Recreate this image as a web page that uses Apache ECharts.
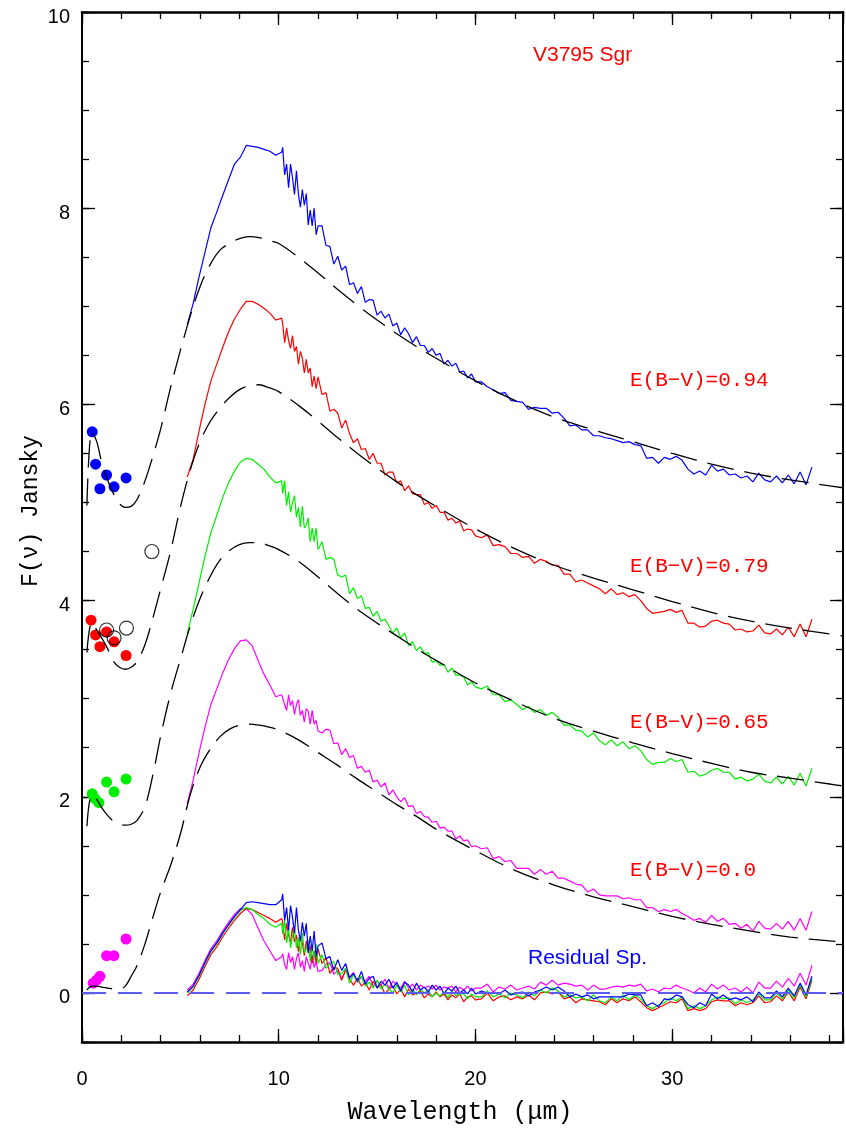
<!DOCTYPE html>
<html><head><meta charset="utf-8">
<script src="https://cdn.jsdelivr.net/npm/echarts@6/dist/echarts.min.js"></script>
<style>html,body{margin:0;padding:0;background:#fff}#c{width:846px;height:1129px}</style>
</head><body><div id="c"></div>
<script>
// ---------- wavelength grid of the spectra (micron) ----------
const WL = [5.35, 5.65, 5.95, 6.25, 6.55, 6.85, 7.15, 7.45, 7.75, 8.05, 8.35, 8.65, 8.95, 9.25, 9.55, 9.85, 10.15,
  10.2, 10.3, 10.4, 10.5, 10.6, 10.7, 10.8, 10.9, 11.0, 11.1, 11.2, 11.3, 11.4, 11.5, 11.6, 11.7, 11.8, 11.9, 12.0,
  12.2, 12.4, 12.6, 12.8, 13.0, 13.2, 13.4, 13.6, 13.8, 14.0, 14.2, 14.4, 14.6, 14.8, 15.0, 15.2, 15.4, 15.6, 15.8, 16.0,
  16.2, 16.4, 16.6, 16.8, 17.0, 17.2, 17.4, 17.6, 17.8, 18.0, 18.2, 18.4, 18.6, 18.8, 19.0, 19.2, 19.4, 19.6, 19.8, 20.0,
  20.3, 20.6, 20.9, 21.2, 21.5, 21.8, 22.1, 22.4, 22.7, 23.0, 23.3, 23.6, 23.9, 24.2, 24.5, 24.8, 25.1, 25.4, 25.7, 26.0,
  26.3, 26.6, 26.9, 27.2, 27.5, 27.8, 28.1, 28.4, 28.7, 29.0, 29.3, 29.6, 29.9, 30.2, 30.5, 30.8, 31.1, 31.4, 31.7, 32.0,
  32.3, 32.6, 32.9, 33.2, 33.5, 33.8, 34.1, 34.4, 34.7, 35.0, 35.3, 35.6, 35.9, 36.2, 36.5, 36.8, 37.1];

// ---------- observed spectra (Jy, offset) ----------
const SPEC_B = [6.81, 7.03, 7.30, 7.55, 7.80, 7.96, 8.13, 8.29, 8.45, 8.52, 8.64, 8.63, 8.62, 8.60, 8.58, 8.54, 8.57,
  8.62, 8.34, 8.45, 8.21, 8.45, 8.31, 8.14, 8.38, 8.14, 8.01, 8.19, 8.03, 8.15, 7.83, 7.98, 7.82, 8.00, 7.73, 7.82,
  7.82, 7.62, 7.61, 7.43, 7.51, 7.37, 7.41, 7.22, 7.24, 7.13, 7.20, 7.04, 7.07, 7.06, 6.91, 6.95, 6.88, 6.92, 6.80, 6.83,
  6.71, 6.78, 6.72, 6.63, 6.69, 6.60, 6.60, 6.53, 6.57, 6.50, 6.52, 6.41, 6.45, 6.39, 6.42, 6.33, 6.34, 6.27, 6.31, 6.23,
  6.23, 6.18, 6.15, 6.11, 6.12, 6.04, 6.03, 6.02, 5.95, 5.97, 5.96, 5.96, 5.91, 5.92, 5.86, 5.78, 5.79, 5.74, 5.74, 5.68,
  5.68, 5.66, 5.65, 5.63, 5.61, 5.62, 5.59, 5.58, 5.45, 5.46, 5.40, 5.46, 5.44, 5.47, 5.43, 5.34, 5.29, 5.32, 5.28, 5.38,
  5.32, 5.34, 5.28, 5.29, 5.25, 5.27, 5.21, 5.30, 5.23, 5.21, 5.27, 5.20, 5.28, 5.19, 5.31, 5.18, 5.36];
const SPEC_R = [5.26, 5.44, 5.73, 6.00, 6.24, 6.41, 6.58, 6.74, 6.87, 6.97, 7.05, 7.05, 7.02, 6.98, 6.93, 6.86, 6.88,
  6.82, 6.63, 6.78, 6.65, 6.57, 6.70, 6.54, 6.59, 6.41, 6.54, 6.47, 6.32, 6.46, 6.32, 6.37, 6.18, 6.29, 6.16, 6.28,
  6.10, 6.12, 5.93, 5.95, 5.91, 5.76, 5.84, 5.70, 5.61, 5.65, 5.54, 5.55, 5.44, 5.50, 5.40, 5.40, 5.28, 5.31, 5.31, 5.20,
  5.22, 5.12, 5.17, 5.09, 5.08, 5.08, 4.98, 5.00, 4.94, 4.97, 4.90, 4.90, 4.82, 4.84, 4.79, 4.81, 4.71, 4.73, 4.72, 4.66,
  4.64, 4.67, 4.56, 4.57, 4.55, 4.48, 4.48, 4.44, 4.45, 4.38, 4.42, 4.40, 4.36, 4.36, 4.27, 4.27, 4.19, 4.21, 4.18, 4.15,
  4.12, 4.07, 4.12, 4.06, 4.08, 4.04, 4.06, 4.00, 3.92, 3.87, 3.88, 3.89, 3.91, 3.88, 3.90, 3.77, 3.77, 3.73, 3.74, 3.79,
  3.80, 3.77, 3.76, 3.70, 3.71, 3.68, 3.69, 3.75, 3.67, 3.66, 3.71, 3.65, 3.73, 3.63, 3.76, 3.63, 3.81];
const SPEC_G = [3.66, 3.91, 4.18, 4.45, 4.69, 4.87, 5.05, 5.20, 5.32, 5.41, 5.45, 5.44, 5.39, 5.34, 5.26, 5.20, 5.22,
  5.09, 5.22, 4.97, 5.11, 4.90, 5.00, 5.07, 4.85, 4.95, 4.75, 4.96, 4.74, 4.77, 4.84, 4.60, 4.74, 4.60, 4.74, 4.52,
  4.60, 4.42, 4.44, 4.42, 4.26, 4.24, 4.26, 4.07, 4.13, 4.02, 4.05, 3.92, 3.93, 3.84, 3.89, 3.79, 3.81, 3.74, 3.67, 3.72,
  3.62, 3.67, 3.54, 3.58, 3.49, 3.53, 3.46, 3.47, 3.37, 3.39, 3.34, 3.35, 3.27, 3.31, 3.24, 3.24, 3.22, 3.14, 3.17, 3.12,
  3.10, 3.13, 3.04, 3.04, 2.97, 2.99, 2.94, 2.89, 2.92, 2.86, 2.89, 2.83, 2.86, 2.81, 2.73, 2.73, 2.68, 2.67, 2.61, 2.65,
  2.57, 2.53, 2.58, 2.52, 2.56, 2.49, 2.52, 2.47, 2.38, 2.33, 2.35, 2.35, 2.39, 2.36, 2.38, 2.25, 2.26, 2.21, 2.23, 2.27,
  2.29, 2.25, 2.25, 2.18, 2.20, 2.16, 2.18, 2.23, 2.16, 2.14, 2.20, 2.13, 2.21, 2.12, 2.24, 2.11, 2.29];
const SPEC_M = [1.93, 2.17, 2.45, 2.71, 2.94, 3.10, 3.26, 3.40, 3.51, 3.59, 3.60, 3.54, 3.39, 3.25, 3.14, 3.02, 3.04,
  3.06, 2.94, 2.88, 3.04, 2.93, 2.98, 2.84, 2.94, 2.99, 2.83, 2.88, 2.76, 2.90, 2.87, 2.74, 2.88, 2.74, 2.78, 2.67,
  2.65, 2.69, 2.68, 2.54, 2.55, 2.43, 2.49, 2.40, 2.42, 2.29, 2.31, 2.25, 2.27, 2.15, 2.17, 2.10, 2.14, 2.02, 2.07, 2.00,
  1.95, 1.99, 1.90, 1.91, 1.83, 1.85, 1.80, 1.79, 1.74, 1.75, 1.68, 1.69, 1.65, 1.65, 1.57, 1.60, 1.55, 1.56, 1.49, 1.50,
  1.47, 1.48, 1.37, 1.39, 1.34, 1.35, 1.27, 1.27, 1.27, 1.21, 1.26, 1.21, 1.24, 1.17, 1.17, 1.14, 1.11, 1.10, 1.03, 1.06,
  1.00, 0.99, 0.99, 0.99, 0.96, 0.97, 0.95, 0.95, 0.87, 0.87, 0.83, 0.85, 0.83, 0.85, 0.81, 0.78, 0.74, 0.76, 0.72, 0.79,
  0.73, 0.76, 0.70, 0.71, 0.66, 0.70, 0.63, 0.73, 0.66, 0.65, 0.71, 0.65, 0.73, 0.64, 0.76, 0.64, 0.83];

// ---------- residual spectra ----------
const RES_B = [0.01, 0.07, 0.18, 0.31, 0.43, 0.51, 0.61, 0.70, 0.78, 0.85, 0.92, 0.93, 0.92, 0.91, 0.90, 0.90, 0.95,
  1.01, 0.74, 0.87, 0.64, 0.89, 0.77, 0.61, 0.87, 0.64, 0.53, 0.72, 0.58, 0.71, 0.41, 0.58, 0.43, 0.63, 0.37, 0.48,
  0.51, 0.35, 0.37, 0.23, 0.34, 0.23, 0.30, 0.15, 0.20, 0.12, 0.22, 0.09, 0.15, 0.17, 0.05, 0.12, 0.08, 0.14, 0.05, 0.11,
  0.02, 0.11, 0.08, 0.01, 0.10, 0.03, 0.06, 0.01, 0.08, 0.03, 0.07, -0.01, 0.05, 0.02, 0.07, 0.00, 0.03, -0.01, 0.05, -0.01,
  0.02, 0.00, 0.00, -0.01, 0.03, -0.02, 0.00, 0.01, -0.03, 0.01, 0.03, 0.06, 0.03, 0.06, 0.02, -0.04, -0.01, -0.04, -0.02, -0.06,
  -0.04, -0.04, -0.04, -0.04, -0.04, -0.01, -0.02, -0.02, -0.13, -0.10, -0.14, -0.06, -0.07, -0.02, -0.04, -0.12, -0.15, -0.10, -0.13, -0.01,
  -0.06, -0.02, -0.07, -0.05, -0.07, -0.04, -0.09, 0.01, -0.05, -0.05, 0.02, -0.04, 0.05, -0.03, 0.10, -0.02, 0.17];
const RES_R = [-0.03, 0.03, 0.14, 0.27, 0.39, 0.47, 0.57, 0.66, 0.74, 0.81, 0.86, 0.85, 0.82, 0.79, 0.76, 0.72, 0.76,
  0.72, 0.54, 0.71, 0.59, 0.52, 0.67, 0.52, 0.59, 0.42, 0.57, 0.51, 0.38, 0.53, 0.41, 0.48, 0.30, 0.43, 0.31, 0.45,
  0.30, 0.36, 0.20, 0.26, 0.25, 0.13, 0.24, 0.14, 0.08, 0.15, 0.07, 0.11, 0.03, 0.12, 0.05, 0.08, -0.01, 0.04, 0.07, -0.01,
  0.04, -0.04, 0.04, -0.02, 0.00, 0.02, -0.05, -0.01, -0.04, 0.01, -0.04, -0.01, -0.07, -0.02, -0.05, -0.01, -0.09, -0.04, -0.03, -0.07,
  -0.06, 0.00, -0.08, -0.04, -0.03, -0.07, -0.04, -0.06, -0.02, -0.07, 0.00, 0.01, -0.01, 0.01, -0.06, -0.04, -0.10, -0.06, -0.07, -0.08,
  -0.09, -0.12, -0.06, -0.10, -0.06, -0.08, -0.04, -0.09, -0.15, -0.18, -0.15, -0.12, -0.09, -0.10, -0.06, -0.18, -0.16, -0.18, -0.16, -0.09,
  -0.07, -0.08, -0.08, -0.13, -0.10, -0.12, -0.10, -0.03, -0.10, -0.09, -0.03, -0.08, 0.01, -0.08, 0.06, -0.06, 0.13];
const RES_G = [0.00, 0.06, 0.17, 0.30, 0.42, 0.50, 0.60, 0.69, 0.77, 0.84, 0.87, 0.85, 0.80, 0.76, 0.70, 0.67, 0.71,
  0.60, 0.74, 0.51, 0.66, 0.46, 0.58, 0.66, 0.46, 0.57, 0.39, 0.61, 0.41, 0.45, 0.54, 0.32, 0.47, 0.35, 0.50, 0.30,
  0.39, 0.25, 0.30, 0.32, 0.19, 0.20, 0.25, 0.10, 0.19, 0.11, 0.17, 0.07, 0.11, 0.05, 0.13, 0.04, 0.09, 0.04, 0.00, 0.08,
  0.01, 0.08, -0.02, 0.04, -0.02, 0.04, 0.00, 0.03, -0.04, 0.00, -0.03, 0.01, -0.05, 0.02, -0.03, -0.01, -0.01, -0.06, -0.01, -0.04,
  -0.04, 0.02, -0.04, -0.01, -0.05, 0.00, -0.02, -0.05, 0.01, -0.03, 0.03, 0.00, 0.05, 0.02, -0.04, -0.02, -0.05, -0.04, -0.08, -0.02,
  -0.08, -0.10, -0.04, -0.08, -0.02, -0.07, -0.02, -0.06, -0.13, -0.16, -0.12, -0.10, -0.05, -0.08, -0.04, -0.16, -0.13, -0.16, -0.13, -0.07,
  -0.04, -0.06, -0.05, -0.11, -0.07, -0.10, -0.07, -0.01, -0.07, -0.07, 0.00, -0.06, 0.03, -0.05, 0.08, -0.04, 0.15];
const RES_M = [0.03, 0.09, 0.20, 0.33, 0.45, 0.53, 0.63, 0.72, 0.80, 0.86, 0.86, 0.80, 0.66, 0.53, 0.43, 0.33, 0.37,
  0.40, 0.29, 0.24, 0.41, 0.31, 0.37, 0.24, 0.35, 0.41, 0.26, 0.33, 0.22, 0.37, 0.35, 0.24, 0.39, 0.26, 0.32, 0.22,
  0.23, 0.29, 0.31, 0.19, 0.23, 0.14, 0.23, 0.16, 0.21, 0.11, 0.16, 0.12, 0.17, 0.07, 0.12, 0.08, 0.14, 0.05, 0.12, 0.08,
  0.05, 0.12, 0.05, 0.09, 0.03, 0.08, 0.05, 0.07, 0.04, 0.08, 0.03, 0.06, 0.05, 0.07, 0.01, 0.06, 0.03, 0.07, 0.02, 0.05,
  0.05, 0.09, 0.01, 0.06, 0.04, 0.08, 0.03, 0.05, 0.07, 0.04, 0.11, 0.08, 0.13, 0.08, 0.10, 0.09, 0.07, 0.08, 0.03, 0.08,
  0.04, 0.04, 0.06, 0.07, 0.06, 0.08, 0.07, 0.09, 0.02, 0.04, 0.01, 0.05, 0.04, 0.08, 0.05, 0.03, 0.00, 0.05, 0.01, 0.09,
  0.04, 0.08, 0.03, 0.05, 0.01, 0.06, 0.00, 0.11, 0.05, 0.05, 0.12, 0.06, 0.15, 0.07, 0.20, 0.08, 0.28];

// ---------- model curves (photosphere + dust) ----------
const MODEL_WL = [0.25, 0.5, 0.75, 1.0, 1.3, 1.6, 1.9, 2.2, 2.5, 2.8, 3.2, 3.6, 4.0, 4.5, 5.0, 5.5, 6.0, 6.5, 7.0, 7.5,
  8.0, 8.5, 9.0, 9.5, 10, 11, 12, 13, 14, 15, 16, 17, 18, 20, 22, 24, 26, 28, 30, 32, 34, 36, 38, 38.68];
const MODEL_B = [4.97, 5.72, 5.62, 5.41, 5.23, 5.09, 4.99, 4.95, 4.96, 5.03, 5.22, 5.47, 5.75, 6.17, 6.55, 6.90, 7.20, 7.42, 7.57, 7.64,
  7.69, 7.71, 7.70, 7.67, 7.64, 7.50, 7.34, 7.17, 7.01, 6.86, 6.72, 6.59, 6.47, 6.24, 6.04, 5.87, 5.74, 5.62, 5.50, 5.39, 5.30, 5.23, 5.17, 5.15];
const MODEL_R = [3.47, 3.78, 3.70, 3.62, 3.51, 3.38, 3.32, 3.30, 3.32, 3.38, 3.55, 3.82, 4.12, 4.50, 4.95, 5.33, 5.62, 5.82, 5.96, 6.07,
  6.15, 6.19, 6.20, 6.17, 6.13, 5.99, 5.83, 5.66, 5.50, 5.35, 5.21, 5.08, 4.96, 4.73, 4.53, 4.36, 4.23, 4.11, 3.99, 3.88, 3.79, 3.72, 3.66, 3.64];
const MODEL_G = [1.70, 2.02, 1.97, 1.89, 1.81, 1.75, 1.72, 1.71, 1.72, 1.76, 1.90, 2.22, 2.62, 3.05, 3.40, 3.74, 4.02, 4.24, 4.41, 4.51,
  4.57, 4.59, 4.59, 4.56, 4.52, 4.40, 4.24, 4.07, 3.91, 3.77, 3.64, 3.51, 3.39, 3.16, 2.97, 2.80, 2.67, 2.55, 2.44, 2.34, 2.25, 2.19, 2.13, 2.11];
const MODEL_M = [0.03, 0.07, 0.07, 0.06, 0.05, 0.04, 0.04, 0.07, 0.17, 0.28, 0.50, 0.77, 1.03, 1.30, 1.62, 2.02, 2.30, 2.48, 2.61, 2.69,
  2.73, 2.74, 2.73, 2.71, 2.68, 2.58, 2.45, 2.32, 2.18, 2.05, 1.92, 1.80, 1.67, 1.45, 1.25, 1.10, 0.98, 0.88, 0.78, 0.70, 0.63, 0.57, 0.53, 0.52];

// ---------- photometry ----------
const PHOT_B_X = [0.52, 0.69, 0.91, 1.25, 1.63, 2.24];
const PHOT_B_Y = [5.72, 5.39, 5.14, 5.28, 5.16, 5.25];
const PHOT_R_X = [0.46, 0.69, 0.91, 1.25, 1.63, 2.24];
const PHOT_R_Y = [3.80, 3.65, 3.53, 3.68, 3.58, 3.44];
const PHOT_G_X = [0.52, 0.66, 0.86, 1.25, 1.63, 2.24];
const PHOT_G_Y = [2.03, 1.98, 1.94, 2.15, 2.05, 2.18];
const PHOT_M_X = [0.57, 0.74, 0.91, 1.25, 1.62, 2.24];
const PHOT_M_Y = [0.10, 0.13, 0.17, 0.38, 0.38, 0.55];
const OPEN_X = [1.25, 1.63, 2.26, 3.55];
const OPEN_Y = [3.70, 3.62, 3.72, 4.50];

// ---------- axes / labels ----------
const X_MIN = 0, X_MAX = 38.68, X_MAJOR = 10, X_MINOR = 2;
const Y_MIN = -0.5, Y_MAX = 10, Y_MINOR = 0.5;
const EBV_LABELS = ['E(B\u2212V)=0.94', 'E(B\u2212V)=0.79', 'E(B\u2212V)=0.65', 'E(B\u2212V)=0.0'];

const zip = (xs, ys) => xs.map((x, i) => [x, ys[i]]);

const chart = echarts.init(document.getElementById('c'), null, {renderer: 'canvas'});

const tickStyle = {color: '#000', width: 1.3};
function xAxisDef(pos, interval, major) {
  return {
    type: 'value', position: pos, min: X_MIN, max: X_MAX, interval: interval,
    axisLine: {show: major, onZero: false, lineStyle: {color: '#000', width: 2.5}},
    axisTick: {show: true, inside: true, length: major ? 13 : 7, lineStyle: tickStyle},
    axisLabel: (pos === 'bottom' && major) ? {
      show: true, margin: 27, fontSize: 20, color: '#000', fontFamily: 'Liberation Sans',
      formatter: v => (Math.abs(v % 10) < 1e-9 ? String(v) : '')
    } : {show: false},
    splitLine: {show: false}
  };
}
function yAxisDef(pos, major) {
  const a = {
    type: 'value', position: pos, min: Y_MIN, max: Y_MAX,
    axisLine: {show: major, onZero: false, lineStyle: {color: '#000', width: 2}},
    axisTick: {show: true, inside: true, length: major ? 13 : 7, lineStyle: tickStyle},
    axisLabel: (pos === 'left' && major) ? {
      show: true, margin: 12, fontSize: 20, color: '#000', fontFamily: 'Liberation Sans',
      verticalAlign: 'top', lineHeight: 10,
      formatter: v => (v >= 0 && Math.abs(v % 2) < 1e-9 ? String(v) : '')
    } : {show: false},
    splitLine: {show: false}
  };
  if (major) a.splitNumber = 5; else a.interval = Y_MINOR;
  return a;
}

const lineSeries = (name, data, color, width, extra) => Object.assign({
  name, type: 'line', data, symbol: 'none', showSymbol: false, silent: true,
  lineStyle: {color, width}, itemStyle: {color}, animation: false, clip: true
}, extra || {});

const modelStyle = (data) => lineSeries('model', data, '#000', 1.3, {
  smooth: 0.35, lineStyle: {color: '#000', width: 1.3, type: [27, 11]}
});

const dots = (xs, ys, color) => ({
  type: 'scatter', data: zip(xs, ys), symbol: 'circle', symbolSize: 11, silent: true, animation: false,
  itemStyle: {color: color, opacity: 1}
});

const series = [
  lineSeries('resM', zip(WL, RES_M), '#ff00ff', 1.2, {
    markLine: {silent: true, symbol: 'none', animation: false, label: {show: false},
      lineStyle: {color: '#5c5cf0', width: 2, type: [24, 12]}, data: [{yAxis: 0}]}
  }),
  lineSeries('resR', zip(WL, RES_R), '#ff0000', 1.2),
  lineSeries('resG', zip(WL, RES_G), '#00ee00', 1.2),
  lineSeries('resB', zip(WL, RES_B), '#0000ff', 1.2),
  lineSeries('specM', zip(WL, SPEC_M), '#ff00ff', 1.2),
  lineSeries('specR', zip(WL, SPEC_R), '#ff0000', 1.2),
  lineSeries('specG', zip(WL, SPEC_G), '#00ee00', 1.2),
  lineSeries('specB', zip(WL, SPEC_B), '#0000ff', 1.2),
  modelStyle(zip(MODEL_WL, MODEL_B)),
  modelStyle(zip(MODEL_WL, MODEL_R)),
  modelStyle(zip(MODEL_WL, MODEL_G)),
  modelStyle(zip(MODEL_WL, MODEL_M)),
  dots(PHOT_B_X, PHOT_B_Y, '#0000ff'),
  dots(PHOT_R_X, PHOT_R_Y, '#ff0000'),
  dots(PHOT_G_X, PHOT_G_Y, '#00ee00'),
  dots(PHOT_M_X, PHOT_M_Y, '#ff00ff'),
  {type: 'scatter', data: zip(OPEN_X, OPEN_Y), symbol: 'circle', symbolSize: 14, silent: true, animation: false,
   itemStyle: {color: 'rgba(0,0,0,0)', borderColor: '#000', borderWidth: 1.2}}
];

const ebvY = [380, 566, 722, 870];
const graphic = [
  {type: 'text', x: 533, y: 55, silent: true,
   style: {text: 'V3795 Sgr', fill: '#ff0000', font: '21px "Liberation Sans"', align: 'left', verticalAlign: 'middle'}},
  {type: 'text', x: 528, y: 958, silent: true,
   style: {text: 'Residual Sp.', fill: '#0000ff', font: '21px "Liberation Sans"', align: 'left', verticalAlign: 'middle'}},
  {type: 'text', x: 460, y: 1112, silent: true,
   style: {text: 'Wavelength (\u03bcm)', fill: '#000', font: '25px "Liberation Mono"', align: 'center', verticalAlign: 'middle'}},
  {type: 'text', x: 31, y: 511, rotation: Math.PI / 2, silent: true,
   style: {text: 'F(\u03bd) Jansky', fill: '#000', font: '23px "Liberation Mono"', align: 'center', verticalAlign: 'middle'}}
].concat(EBV_LABELS.map((t, i) => ({
  type: 'text', x: 630, y: ebvY[i], silent: true,
  style: {text: t, fill: '#ff0000', font: '21px "Liberation Mono"', align: 'left', verticalAlign: 'middle'}
})));

chart.setOption({
  animation: false,
  backgroundColor: '#fff',
  grid: {left: 82, top: 12, width: 765, height: 1030, containLabel: false},
  xAxis: [xAxisDef('bottom', X_MAJOR, true), xAxisDef('bottom', X_MINOR, false),
          xAxisDef('top', X_MAJOR, true), xAxisDef('top', X_MINOR, false)],
  yAxis: [yAxisDef('left', true), yAxisDef('left', false), yAxisDef('right', true), yAxisDef('right', false)],
  series: series,
  graphic: graphic
});
</script></body></html>
